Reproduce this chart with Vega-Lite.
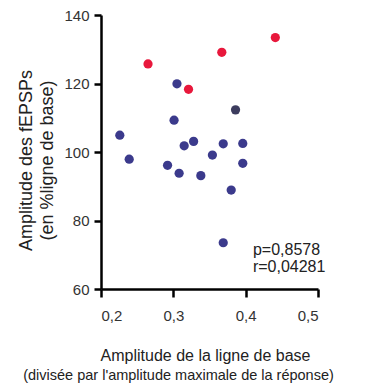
{
  "$schema": "https://vega.github.io/schema/vega-lite/v6.json",
  "width": 217,
  "height": 274,
  "autosize": {"type": "none"},
  "padding": {"left": 101, "top": 15, "right": 64, "bottom": 98},
  "background": "white",
  "config": {
    "view": {"stroke": null},
    "font": "Liberation Sans",
    "title": {"font": "Liberation Sans"}
  },
  "title": {
    "text": "(divisée par l'amplitude maximale de la réponse)",
    "orient": "bottom",
    "anchor": "middle",
    "frame": "group",
    "dx": -31,
    "offset": 6,
    "fontSize": 14.5,
    "fontWeight": "normal",
    "color": "#222222"
  },
  "layer": [
    {
      "data": {
        "values": [
          {"x": 0.265, "y": 125.7, "g": "rouge"},
          {"x": 0.367, "y": 129.1, "g": "rouge"},
          {"x": 0.441, "y": 133.4, "g": "rouge"},
          {"x": 0.321, "y": 118.3, "g": "rouge"},
          {"x": 0.305, "y": 119.9, "g": "bleu"},
          {"x": 0.386, "y": 112.3, "g": "gris"},
          {"x": 0.301, "y": 109.3, "g": "bleu"},
          {"x": 0.226, "y": 104.9, "g": "bleu"},
          {"x": 0.315, "y": 101.8, "g": "bleu"},
          {"x": 0.328, "y": 103.1, "g": "bleu"},
          {"x": 0.369, "y": 102.4, "g": "bleu"},
          {"x": 0.396, "y": 102.5, "g": "bleu"},
          {"x": 0.354, "y": 99.1, "g": "bleu"},
          {"x": 0.239, "y": 97.9, "g": "bleu"},
          {"x": 0.292, "y": 96.1, "g": "bleu"},
          {"x": 0.308, "y": 93.8, "g": "bleu"},
          {"x": 0.338, "y": 93.1, "g": "bleu"},
          {"x": 0.396, "y": 96.7, "g": "bleu"},
          {"x": 0.380, "y": 88.9, "g": "bleu"},
          {"x": 0.369, "y": 73.5, "g": "bleu"}
        ]
      },
      "mark": {"type": "circle", "size": 85, "opacity": 1},
      "encoding": {
        "x": {
          "field": "x", "type": "quantitative",
          "scale": {"domain": [0.2, 0.5], "nice": false, "zero": false},
          "axis": {
            "values": [0.2, 0.3, 0.4, 0.5],
            "labelExpr": "replace(format(datum.value, '.1f'), '.', ',')",
            "title": "Amplitude de la ligne de base",
            "titleFontSize": 16, "titleFontWeight": "normal", "titleColor": "#222222",
            "titleX": 104, "titleY": 58, "titleBaseline": "top",
            "labelFontSize": 15, "labelColor": "#333333", "labelPadding": 11,
            "domainColor": "#000000", "domainWidth": 2.5,
            "tickColor": "#000000", "tickWidth": 2.5, "tickSize": 8,
            "grid": false
          }
        },
        "y": {
          "field": "y", "type": "quantitative",
          "scale": {"domain": [60, 140], "nice": false, "zero": false},
          "axis": {
            "values": [60, 80, 100, 120, 140],
            "title": ["Amplitude des fEPSPs", "(en %ligne de base)"],
            "titleFontSize": 18, "titleFontWeight": "normal", "titleColor": "#222222",
            "titleX": -84, "titleY": 145, "titleBaseline": "top", "titleLineHeight": 21,
            "labelFontSize": 15, "labelColor": "#333333", "labelPadding": 5,
            "domainColor": "#000000", "domainWidth": 2.5,
            "tickColor": "#000000", "tickWidth": 2.5, "tickSize": 7,
            "grid": false
          }
        },
        "color": {
          "field": "g", "type": "nominal",
          "scale": {"domain": ["bleu", "rouge", "gris"], "range": ["#3b3a8c", "#e8183c", "#3c3c5e"]},
          "legend": null
        }
      }
    },
    {
      "data": {
        "values": [
          {"x": 0.41, "y": 71.4, "label": "p=0,8578"},
          {"x": 0.41, "y": 66.4, "label": "r=0,04281"}
        ]
      },
      "mark": {"type": "text", "align": "left", "baseline": "middle", "fontSize": 16, "color": "#222222"},
      "encoding": {
        "x": {"field": "x", "type": "quantitative"},
        "y": {"field": "y", "type": "quantitative"},
        "text": {"field": "label"}
      }
    }
  ]
}
